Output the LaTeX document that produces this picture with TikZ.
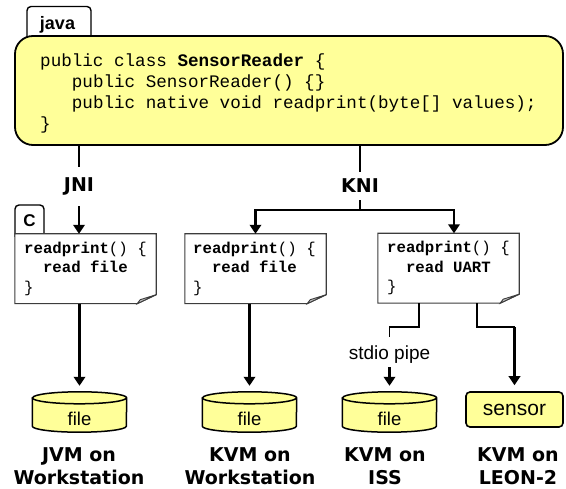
\documentclass[tikz,border=0pt]{standalone}
\usepackage{fontspec}
\setmainfont{Liberation Sans}
\newfontfamily\codefont{Liberation Mono}
\newfontfamily\vfont{DejaVu Sans}
\usetikzlibrary{arrows.meta,calc}
\definecolor{noteyellow}{HTML}{FFFF99}
\definecolor{foldgray}{HTML}{C4C4C4}
\definecolor{noteedge}{HTML}{3C3C3C}

\begin{document}
\begin{tikzpicture}[x=1pt,y=-1pt,line join=miter,
  conn/.style={line width=1.5pt},
  shaft/.style={line width=2.1pt},
  arr/.style={line width=2.1pt,-{Triangle[width=11.5pt,length=9pt]}},
  gap/.style={shorten >=6pt},
  tagline/.style={draw,line width=1.4pt,fill=white,rounded corners=4pt},
  tagtext/.style={inner sep=0pt,font=\bfseries\fontsize{18}{18}\selectfont},
  mainbox/.style={draw,line width=1.8pt,fill=noteyellow,rounded corners=18pt,
    minimum width=548pt,minimum height=109pt,inner sep=0pt},
  codetext/.style={inner sep=0pt,align=left,font=\codefont\fontsize{17.6}{20.9}\selectfont},
  notebox/.style={inner sep=0pt,minimum width=141pt,minimum height=69.5pt},
  noteline/.style={draw=noteedge,line width=1.1pt,fill=white},
  fold/.style={draw=noteedge,line width=0.9pt,fill=foldgray},
  notetext/.style={inner sep=0pt,align=left,font=\codefont\fontsize{15.7}{19.5}\selectfont},
  iface/.style={inner xsep=0pt,font=\vfont\bfseries\fontsize{19}{19}\selectfont},
  cylnode/.style={inner sep=0pt,minimum width=94pt,minimum height=40pt},
  cyl/.style={draw,line width=1.5pt,fill=noteyellow},
  filetext/.style={inner sep=0pt,font=\fontsize{18.5}{18.5}\selectfont},
  pipetext/.style={inner sep=0pt,font=\fontsize{19}{19}\selectfont},
  sensorbox/.style={draw,line width=1.6pt,fill=noteyellow,rounded corners=4pt,
    minimum width=97pt,minimum height=35pt,inner sep=0pt,font=\fontsize{21}{21}\selectfont},
  vmlabel/.style={inner sep=0pt,align=center,font=\vfont\bfseries\fontsize{19}{23.3}\selectfont}
]
\useasboundingbox (0,0) rectangle (566,489);

% language tabs
\draw[tagline] (27,40) -- (27,6.5) -- (91,6.5) -- (91,40);
\node[tagtext,anchor=base] (javatag) at (57.5,29.3) {java};
\draw[tagline] (15,237) -- (15,205) -- (44,205) -- (44,237);
\node[tagtext,font=\bfseries\fontsize{17}{17}\selectfont,anchor=base] (ctag) at (29.5,226.5) {C};

% Java class (base anchor = baseline of the last line)
\node[mainbox] (main) at (289,90.5) {};
\node[codetext,anchor=base west] (code) at (40,129.2) {%
public class \textbf{SensorReader} \{\\
\hphantom{pub}public SensorReader() \{\}\\
\hphantom{pub}public native void readprint(byte[] values);\\
\}};

% native implementations
\node[notebox] (n1) at (85.5,268.75) {};
\node[notebox] (n2) at (255.5,268.75) {};
\node[notebox] (n3) at (448.5,268.25) {};
\foreach \n in {n1,n2,n3}{
  \draw[noteline] (\n.north west) -- (\n.north east) -- ([yshift=9pt]\n.south east)
    -- ([xshift=-19pt]\n.south east) -- (\n.south west) -- cycle;
  \draw[fold] ([yshift=9pt]\n.south east) -- ([shift={(-16pt,4pt)}]\n.south east)
    -- ([xshift=-19pt]\n.south east) -- cycle;
}
\node[notetext,anchor=base west] (t1) at (24,292.5)
  {\textbf{readprint}() \{\\\hphantom{rr}\textbf{read file}\\\}};
\node[notetext,anchor=base west] (t2) at (193,292.5)
  {\textbf{readprint}() \{\\\hphantom{rr}\textbf{read file}\\\}};
\node[notetext,anchor=base west] (t3) at (387,292)
  {\textbf{readprint}() \{\\\hphantom{rr}\textbf{read UART}\\\}};

% interfaces
\node[iface,inner ysep=10.5pt] (jni) at (79,186.7) {JNI};
\node[iface,inner ysep=7pt] (kni) at (360,186) {KNI};

% storage and devices
\foreach \cx/\nm in {79.5/c1,249.5/c2,389.5/c3}{
  \node[cylnode] (\nm) at (\cx,412) {};
  \filldraw[cyl] ([yshift=-6pt]\nm.north west) -- ([yshift=6pt]\nm.south west)
    arc[start angle=180,end angle=360,x radius=47pt,y radius=6pt]
    -- ([yshift=-6pt]\nm.north east)
    arc[start angle=0,end angle=180,x radius=47pt,y radius=6pt] -- cycle;
  \draw[cyl,fill=none] ([yshift=-6pt]\nm.north west)
    arc[start angle=180,end angle=360,x radius=47pt,y radius=6pt];
  \node[filetext,anchor=base] (\nm-t) at (\cx,425.5) {file};
}
\node[sensorbox] (sensor) at (514.5,409.5) {sensor};
\node[pipetext,anchor=base] (pipe) at (389.5,360) {stdio pipe};

% platform labels (base anchor = baseline of the second line)
\node[vmlabel,anchor=base] (l1) at (79,485) {JVM on\\Workstation};
\node[vmlabel,anchor=base] (l2) at (250,485) {KVM on\\Workstation};
\node[vmlabel,anchor=base] (l3) at (385,485) {KVM on\\ISS};
\node[vmlabel,anchor=base] (l4) at (518,485) {KVM on\\LEON-2};

% JNI branch
\draw[conn] (jni |- main.south) -- (jni.north);
\draw[arr] (jni.south) -- (jni |- n1.north);
\draw[arr,gap] (c1 |- n1.south) -- (c1.north);

% KNI branch
\draw[conn] (kni |- main.south) -- (kni.north);
\coordinate (split) at ($(kni.south)+(0,10)$);
\draw[shaft] (kni.south) -- (split);
\draw[arr] (split) -| (n2.north);
\draw[arr] (split) -| ([xshift=5.5pt]n3.north);
\draw[arr,gap] (c2 |- n2.south) -- (c2.north);

% simulator and hardware targets
\draw[conn] ([xshift=-29.5pt]n3.south) -- ++(0,24) -| ([yshift=9pt]pipe.north);
\draw[arr,gap] ([yshift=-3pt]pipe.south) -- (c3.north);
\path ([xshift=28.5pt]n3.south) ++(0,24) coordinate (sj);
\draw[conn] ([xshift=28.5pt]n3.south) -- (sj) -- (sj -| sensor.north);
\draw[arr,gap] (sj -| sensor.north) -- (sensor.north);
\end{tikzpicture}
\end{document}
